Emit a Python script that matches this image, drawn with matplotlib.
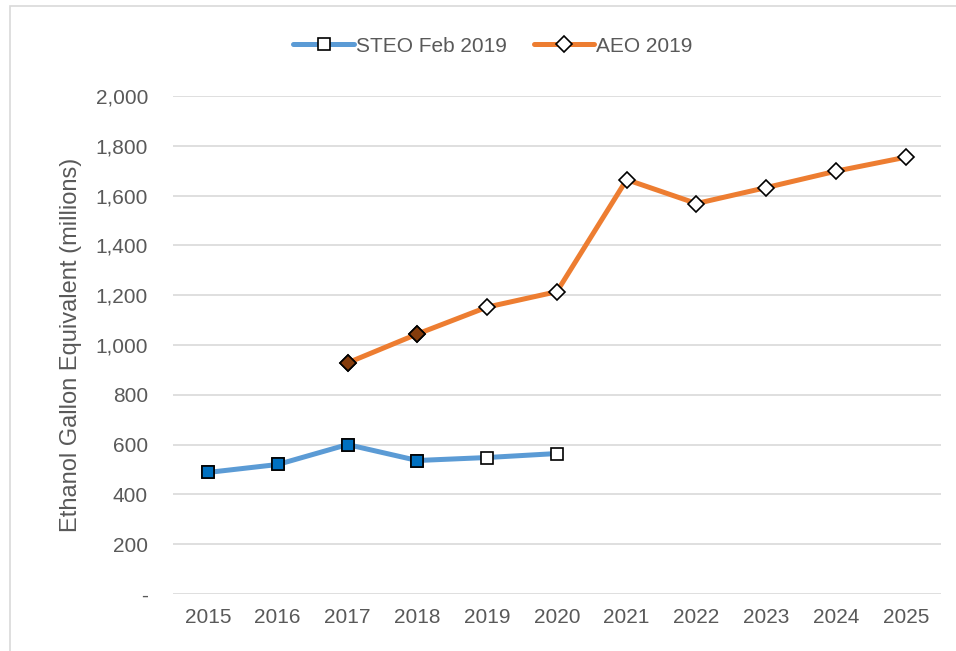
import matplotlib.pyplot as plt
from matplotlib.patches import Rectangle

years = [2015, 2016, 2017, 2018, 2019, 2020, 2021, 2022, 2023, 2024, 2025]
steo_years = [2015, 2016, 2017, 2018, 2019, 2020]
steo_vals = [488, 520, 600, 536, 548, 564]
steo_hist = [True, True, True, True, False, False]
aeo_years = [2017, 2018, 2019, 2020, 2021, 2022, 2023, 2024, 2025]
aeo_vals = [928, 1044, 1152, 1214, 1664, 1568, 1632, 1698, 1754]
aeo_hist = [True, True, False, False, False, False, False, False, False]
yticks = [0, 200, 400, 600, 800, 1000, 1200, 1400, 1600, 1800, 2000]

plt.rcParams['font.family'] = ['Liberation Sans', 'DejaVu Sans']
txt = '#595959'

fig = plt.figure(figsize=(9.56, 6.51), dpi=100)
ax = fig.add_axes([0.181, 0.0876, 0.803, 0.765])

# light chart border (only top/left visible in the reference)
fig.patches.append(Rectangle((10 / 956, -0.1), 1.2, (651 - 6) / 651 + 0.1,
                             transform=fig.transFigure, fill=False,
                             edgecolor='#d9d9d9', lw=1.2))

steo_x = [years.index(y) for y in steo_years]
aeo_x = [years.index(y) for y in aeo_years]

ax.plot(steo_x, steo_vals, color='#5b9bd5', lw=3.6, solid_capstyle='round',
        marker='s', ms=9, mfc='white', mec='black', mew=1.2,
        label='STEO Feb 2019', zorder=3)
ax.plot(aeo_x, aeo_vals, color='#ed7d31', lw=3.6, solid_capstyle='round',
        marker='D', ms=8.5, mfc='white', mec='black', mew=1.2,
        label='AEO 2019', zorder=3)

# historical points get filled markers
for x, v, h in zip(steo_x, steo_vals, steo_hist):
    if h:
        ax.plot(x, v, marker='s', ms=9, mfc='#0070c0', mec='black', mew=1.2,
                ls='none', zorder=4)
for x, v, h in zip(aeo_x, aeo_vals, aeo_hist):
    if h:
        ax.plot(x, v, marker='D', ms=8.5, mfc='#843c0c', mec='black', mew=1.2,
                ls='none', zorder=4)

ax.set_xlim(-0.5, len(years) - 0.5)
ax.set_ylim(0, 2000)
ax.set_xticks(range(len(years)))
ax.set_xticklabels([str(y) for y in years])
ax.set_yticks(yticks)
ax.set_yticklabels(['-' if t == 0 else f'{t:,}' for t in yticks])
ax.tick_params(length=0, labelsize=15, colors=txt, pad=10)
ax.tick_params(axis='y', pad=18)
ax.grid(axis='y', color='#d9d9d9', lw=1.2)
ax.set_axisbelow(True)
for s in ax.spines.values():
    s.set_visible(False)

ax.set_ylabel('Ethanol Gallon Equivalent (millions)', fontsize=17, color=txt, labelpad=10)

leg = ax.legend(loc='center', bbox_to_anchor=(0.417, 1.1), ncol=2, frameon=False,
                fontsize=15, labelcolor=txt, handlelength=2.9, columnspacing=1.3,
                handletextpad=0.1)

fig.savefig('out.png', dpi=100)
